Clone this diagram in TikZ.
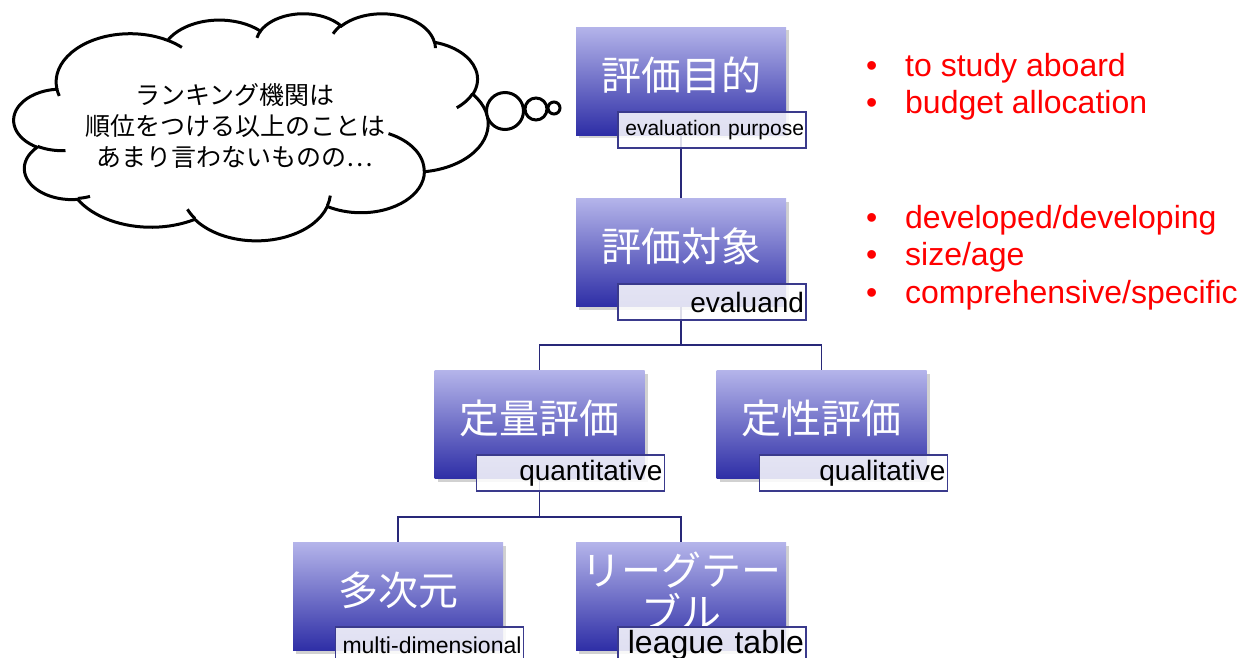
\documentclass[tikz,border=0pt]{standalone}
\usepackage{fontspec}
\setmainfont{Liberation Sans}
\newfontfamily\jp{Noto Sans CJK JP}
\usetikzlibrary{shadows}
\definecolor{boxtop}{RGB}{180,180,234}
\definecolor{boxbot}{RGB}{46,46,166}
\definecolor{tagedge}{RGB}{58,58,140}
\definecolor{connc}{RGB}{40,40,120}
% arc helper: wR hR startangle sweep (visual angles, y down)
\newcommand\cldcalc[4]{%
  \pgfmathsetmacro\cltA{atan2((#1)*sin(#3),(#2)*cos(#3))}%
  \pgfmathsetmacro\cltB{atan2((#1)*sin(#3+#4),(#2)*cos(#3+#4))}%
  \pgfmathsetmacro\cltD{mod(\cltB-\cltA+720,360)}%
  \global\let\cltA\cltA \global\let\cltD\cltD}
\newcommand\cldarc[4]{\pgfextra{\cldcalc{#1}{#2}{#3}{#4}} arc[start angle=\cltA, delta angle=\cltD, x radius=#1, y radius=#2]}
\begin{document}
\begin{tikzpicture}[x=1pt,y=-1pt,
  mainbox/.style={rectangle, minimum width=210pt, minimum height=108pt, inner sep=0pt,
    top color=boxtop, bottom color=boxbot,
    drop shadow={shadow xshift=3pt, shadow yshift=-3pt, opacity=0.3, fill=black!60}},
  boxtext/.style={text=white, font=\jp\fontsize{40}{42}\selectfont, align=center, inner sep=0pt},
  tagbox/.style={rectangle, draw=tagedge, line width=1.2pt, fill=white, fill opacity=0.85, text opacity=1,
    minimum width=188pt, minimum height=36pt, text width=184pt, align=right, inner xsep=2pt, inner ysep=0pt,
    font=\fontsize{28}{30}\selectfont},
  connline/.style={draw=connc, line width=1.3pt},
  redtxt/.style={text=red, font=\fontsize{32}{36}\selectfont, anchor=base west, inner sep=0pt},
  thought/.style={draw=black, line width=3pt, fill=white},
  cloudline/.style={draw=black, line width=3pt},
]
\useasboundingbox (0,0) rectangle (1243,657);

% cloud (PowerPoint-style cloud outline in a 4320 x 4320 frame)
\begin{scope}[shift={(14,13)}, xscale=0.109722, yscale=-0.052546, x=1pt, y=1pt]
  \path[thought] (390,1437)
    \cldarc{675.3}{919}{-190.4875}{123.7805}
    \cldarc{533.3}{726.7}{-144.1024}{89.9452}
    \cldarc{436.5}{594.5}{-145.8079}{99.7230}
    \cldarc{485.7}{659.5}{-130.9861}{117.2417}
    \cldarc{533.3}{727.3}{-78.7089}{109.0269}
    \cldarc{677.5}{922}{-46.2673}{130.2690}
    \cldarc{578.5}{786.7}{0.6250}{114.0333}
    \cldarc{675.2}{921.5}{22.4516}{115.1726}
    \cldarc{772}{1054.3}{66.2426}{75.7110}
    \cldarc{436}{591.8}{-274.9421}{146.7356}
    \cldarc{434.5}{594.5}{-246.8285}{152.5189}
    -- cycle;
  \path[cloudline]
    (469.3,2617.7) \cldarc{434.5}{594.5}{86.7420}{26.4295}
    (692.8,3489.9) \cldarc{436}{591.8}{73.6105}{11.4475}
    (1647.8,3909) \cldarc{675.2}{921.5}{137.6242}{14.0811}
    (2882.7,3475.1) \cldarc{675.2}{921.5}{6.4533}{15.9984}
    (3412.9,2295.4) \cldarc{578.5}{786.7}{-70.2924}{70.9174}
    (4179.8,1535.4) \cldarc{533.3}{727.3}{30.3180}{27.7515}
    (3832.4,542.6) \cldarc{485.7}{659.5}{-13.7443}{14.8589}
    (2907.8,395.2) \cldarc{485.7}{659.5}{-149.1815}{18.1954}
    (2214.1,472) \cldarc{436.5}{594.5}{-163.4943}{17.6864}
    (1400,519.2) \cldarc{675.3}{919}{-66.7070}{12.3194}
    (412.7,1578.9) \cldarc{675.3}{919}{157.6544}{11.8582};
\end{scope}
\node[circle, thought, minimum size=37pt, inner sep=0pt] (bub1) at (505,111) {};
\node[circle, thought, minimum size=22pt, inner sep=0pt] (bub2) at (536,109) {};
\node[circle, thought, minimum size=12pt, inner sep=0pt] (bub3) at (554,108) {};
\node[font=\jp\fontsize{25}{31}\selectfont, align=center, inner sep=0pt] (cloudtext) at (235,126)
  {ランキング機関は\\順位をつける以上のことは\\あまり言わないものの…};

% main boxes
\node[mainbox] (b1) at (681,81) {};
\node[mainbox] (b2) at (681,252.5) {};
\node[mainbox] (b3) at (539.5,424.5) {};
\node[mainbox] (b4) at (821.5,424.5) {};
\node[mainbox] (b5) at (398,596.5) {};
\node[mainbox] (b6) at (681,596.5) {};

\node[boxtext] (t1) at ([yshift=6pt]b1.center) {評価目的};
\node[boxtext] (t2) at ([yshift=6pt]b2.center) {評価対象};
\node[boxtext] (t3) at ([yshift=6pt]b3.center) {定量評価};
\node[boxtext] (t4) at ([yshift=6pt]b4.center) {定性評価};
\node[boxtext] (t5) at ([yshift=6pt]b5.center) {多次元};
\node[boxtext] (t6) at ([yshift=6pt]b6.center) {リーグテー\\ブル};

% connectors
\coordinate (j1) at (681,345);
\coordinate (j2) at (539.5,517);
\draw[connline] (b1.south) -- (b2.north);
\draw[connline] (b2.south) -- (j1) -| (b3.north);
\draw[connline] (j1) -| (b4.north);
\draw[connline] (b3.south) -- (j2) -| (b5.north);
\draw[connline] (j2) -| (b6.north);

% tag boxes
\node[tagbox, font=\fontsize{21}{24}\selectfont] (g1) at (712,130) {evaluation purpose};
\node[tagbox] (g2) at (712,302) {evaluand};
\node[tagbox] (g3) at (570.5,473) {quantitative};
\node[tagbox] (g4) at (853.5,473) {qualitative};
\node[tagbox, font=\fontsize{23}{26}\selectfont] (g5) at (429.5,645) {multi-dimensional};
\node[tagbox, font=\fontsize{32}{34}\selectfont] (g6) at (712,645) {league table};

% red bullets
\node[redtxt] (r1) at (866,76) {\makebox[39pt][l]{•}to study aboard};
\node[redtxt] (r2) at (866,113) {\makebox[39pt][l]{•}budget allocation};
\node[redtxt] (r3) at (866,228) {\makebox[39pt][l]{•}developed/developing};
\node[redtxt] (r4) at (866,265) {\makebox[39pt][l]{•}size/age};
\node[redtxt] (r5) at (866,303) {\makebox[39pt][l]{•}comprehensive/specific};
\end{tikzpicture}
\end{document}
